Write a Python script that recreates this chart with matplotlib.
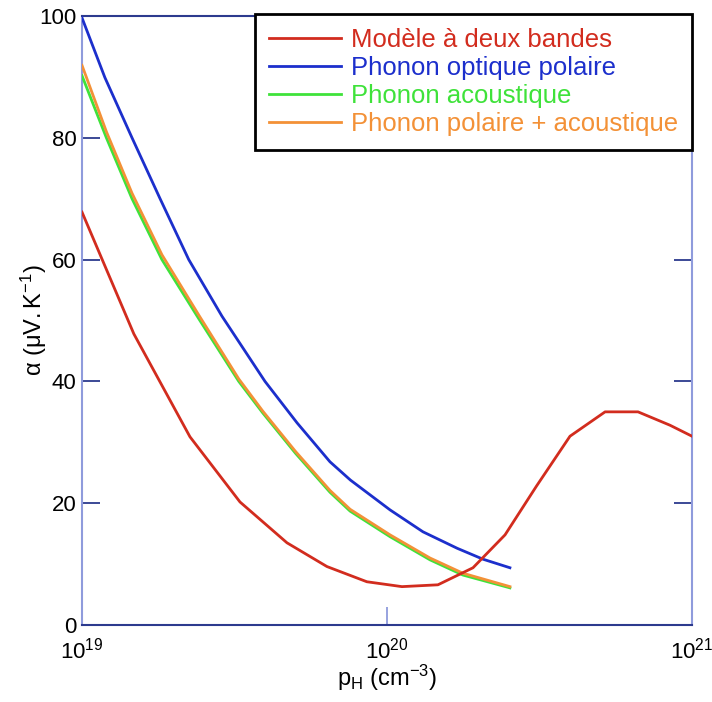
import numpy as np
import matplotlib
matplotlib.use("Agg")
import matplotlib.pyplot as plt
from matplotlib.ticker import FixedLocator, FuncFormatter, NullLocator

plt.rcParams['font.family'] = ['Liberation Sans', 'DejaVu Sans']
plt.rcParams['mathtext.fontset'] = 'custom'
plt.rcParams['mathtext.rm'] = 'Liberation Sans'
plt.rcParams['mathtext.it'] = 'Liberation Sans'

# log10 of hole concentration (cm^-3) and Seebeck coefficient (uV/K)
red_logp = [19.0, 19.17, 19.354, 19.518, 19.672, 19.803, 19.934, 20.049, 20.167,
            20.282, 20.387, 20.49, 20.6, 20.715, 20.823, 20.928, 21.0]
red_alpha = [67.8, 47.8, 30.9, 20.2, 13.5, 9.6, 7.1, 6.3, 6.6,
             9.4, 14.8, 22.8, 31, 35, 35, 32.8, 31]

blue_logp = [19.0, 19.075, 19.164, 19.256, 19.35, 19.459, 19.6, 19.705, 19.813,
             19.88, 20.01, 20.118, 20.23, 20.315, 20.403]
blue_alpha = [99.7, 89.9, 80, 70, 60, 50.7, 40, 33.2, 26.8,
              23.8, 18.9, 15.3, 12.6, 10.8, 9.4]

green_logp = [19.0, 19.08, 19.164, 19.262, 19.384, 19.514, 19.593, 19.7, 19.813,
              19.879, 20.01, 20.141, 20.249, 20.403]
green_alpha = [90.2, 80, 70, 60, 50.2, 40, 34.8, 28.2, 21.8,
               18.7, 14.5, 10.7, 8.2, 6.1]

orange_logp = green_logp
orange_alpha = [91.9, 81.0, 70.9, 60.8, 50.8, 40.4, 35.1, 28.5, 22.1,
                19.0, 14.8, 11.0, 8.5, 6.3]

labels = ["Modèle à deux bandes", "Phonon optique polaire",
          "Phonon acoustique", "Phonon polaire + acoustique"]
colors = ['#d22c1e', '#1c2fcc', '#3fe23a', '#f39137']

fig = plt.figure(figsize=(7.12, 7.02), dpi=100)
ax = fig.add_axes([82/712, 77/702, 610/712, 609/702])

l_blue, = ax.plot(10**np.array(blue_logp), blue_alpha, color=colors[1], lw=2.0, zorder=3)
l_green, = ax.plot(10**np.array(green_logp), green_alpha, color=colors[2], lw=2.0, zorder=4)
l_orange, = ax.plot(10**np.array(orange_logp), orange_alpha, color=colors[3], lw=2.0, zorder=5)
l_red, = ax.plot(10**np.array(red_logp), red_alpha, color=colors[0], lw=2.0, zorder=6)

ax.set_xscale('log')
ax.set_xlim(1e19, 1e21)
ax.set_ylim(0, 100)

ax.xaxis.set_major_locator(FixedLocator([1e19, 1e20, 1e21]))
ax.xaxis.set_minor_locator(NullLocator())
ax.xaxis.set_major_formatter(FuncFormatter(
    lambda v, p: r'$\mathregular{10^{%d}}$' % round(np.log10(v))))
ax.set_yticks([0, 20, 40, 60, 80, 100])

light = '#8f9bdc'
navy = '#2c3a8e'
ax.spines['left'].set_color(light)
ax.spines['right'].set_color(light)
ax.spines['top'].set_color(navy)
ax.spines['bottom'].set_color(navy)
for s in ax.spines.values():
    s.set_linewidth(1.5)

ax.tick_params(axis='y', which='major', direction='in', length=13, width=1.3,
               color=navy, left=True, right=True, labelsize=16, pad=4)
ax.tick_params(axis='x', which='major', direction='in', length=13, width=1.3,
               color=light, top=True, bottom=True, labelsize=16, pad=9)

ax.set_xlabel(r'$\mathregular{p_H\ (cm^{-3})}$', fontsize=17)
ax.xaxis.set_label_coords(0.5, -0.062)
ax.set_ylabel(r'$\mathregular{\alpha\ (\mu V.K^{-1})}$', fontsize=17)
ax.yaxis.set_label_coords(-0.054, 0.5)

leg = ax.legend([l_red, l_blue, l_green, l_orange], labels,
                loc='upper right', bbox_to_anchor=(1.0, 1.004),
                fontsize=18.5, frameon=True, fancybox=False,
                handlelength=2.8, handletextpad=0.4, labelspacing=0.155,
                borderpad=0.545, borderaxespad=0)
leg.get_frame().set_edgecolor('black')
leg.get_frame().set_linewidth(2.0)
leg.get_frame().set_alpha(1.0)
leg.set_zorder(10)
for txt, c in zip(leg.get_texts(), colors):
    txt.set_color(c)

fig.savefig('out.png', dpi=100)
